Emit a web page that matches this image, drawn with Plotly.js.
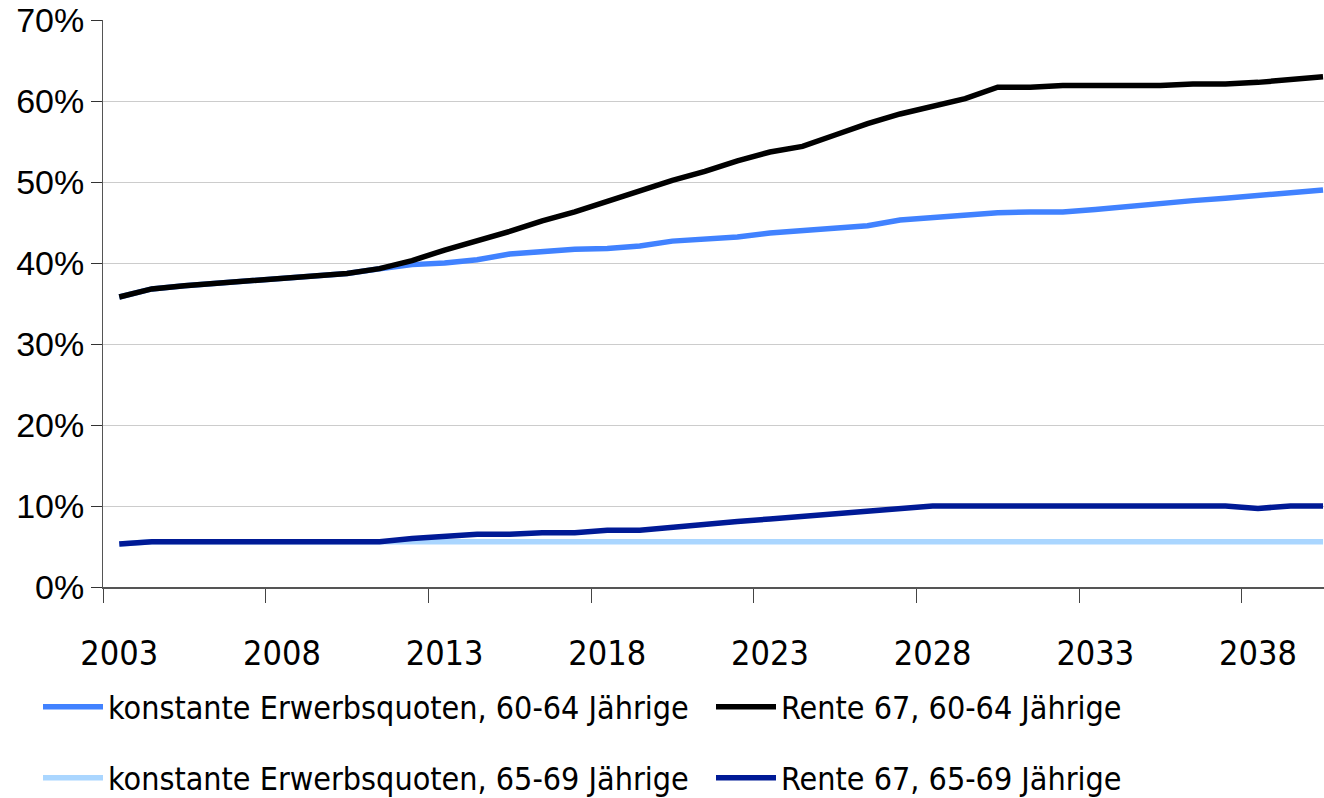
<!DOCTYPE html>
<html>
<head>
<meta charset="utf-8">
<script src="https://cdn.plot.ly/plotly-3.0.1.min.js"></script>
<style>
  html, body { margin: 0; padding: 0; background: #fff; }
  #chart { width: 1324px; height: 798px; }
</style>
</head>
<body>
<div id="chart"></div>
<script>
// Jahre der Projektion
const years = [2003, 2004, 2005, 2006, 2007, 2008, 2009, 2010, 2011, 2012,
               2013, 2014, 2015, 2016, 2017, 2018, 2019, 2020, 2021, 2022,
               2023, 2024, 2025, 2026, 2027, 2028, 2029, 2030, 2031, 2032,
               2033, 2034, 2035, 2036, 2037, 2038, 2039, 2040];

// Erwerbsquoten in Prozent
const konstant6064 = [35.8, 36.8, 37.2, 37.5, 37.9, 38.2, 38.4, 38.7, 39.3, 39.8,
                      40.0, 40.4, 41.1, 41.4, 41.7, 41.8, 42.1, 42.7, 43.0, 43.2,
                      43.7, 44.0, 44.3, 44.6, 45.3, 45.6, 45.9, 46.2, 46.3, 46.3,
                      46.6, 47.0, 47.4, 47.7, 48.0, 48.3, 48.7, 49.0];
const rente6064 = [35.8, 36.8, 37.2, 37.5, 37.9, 38.2, 38.4, 38.7, 39.3, 40.3,
                   41.6, 42.7, 43.9, 45.2, 46.3, 47.6, 48.9, 50.2, 51.3, 52.6,
                   53.7, 54.4, 55.8, 57.2, 58.4, 59.4, 60.3, 61.7, 61.7, 61.9,
                   61.9, 61.9, 61.9, 62.1, 62.1, 62.3, 62.7, 63.0];
const konstant6569 = [5.3, 5.6, 5.6, 5.6, 5.6, 5.6, 5.6, 5.6, 5.6, 5.6,
                      5.6, 5.6, 5.6, 5.6, 5.6, 5.6, 5.6, 5.6, 5.6, 5.6,
                      5.6, 5.6, 5.6, 5.6, 5.6, 5.6, 5.6, 5.6, 5.6, 5.6,
                      5.6, 5.6, 5.6, 5.6, 5.6, 5.6, 5.6, 5.6];
const rente6569 = [5.3, 5.6, 5.6, 5.6, 5.6, 5.6, 5.6, 5.6, 5.6, 6.0,
                   6.2, 6.5, 6.5, 6.7, 6.7, 7.0, 7.0, 7.4, 7.8, 8.1,
                   8.4, 8.7, 9.1, 9.4, 9.7, 10.0, 10.0, 10.0, 10.0, 10.0,
                   10.0, 10.0, 10.0, 10.0, 10.0, 9.7, 10.0, 10.0];

// Achsenbeschriftung: Jahre im Abstand von fünf, Striche zwischen den Jahren
const labelYears = [2003, 2008, 2013, 2018, 2023, 2028, 2033, 2038];
const labelText = labelYears.map(String);
const boundaryTicks = labelYears.map(y => y - 0.5);

const yTicks = [0, 10, 20, 30, 40, 50, 60, 70];
const yTickText = yTicks.map(v => v + '%');

const narrow = '"DejaVu Sans Condensed", "DejaVu Sans", sans-serif';
const regular = '"Liberation Sans", Arial, sans-serif';

// one legend per entry, laid out in two rows and two columns
const series = [
  { name: 'konstante Erwerbsquoten, 60-64 Jährige', y: konstant6064, color: '#4182ff', legend: 'legend' },
  { name: 'Rente 67, 60-64 Jährige', y: rente6064, color: '#000000', legend: 'legend2' },
  { name: 'konstante Erwerbsquoten, 65-69 Jährige', y: konstant6569, color: '#aad6ff', legend: 'legend3' },
  { name: 'Rente 67, 65-69 Jährige', y: rente6569, color: '#001a96', legend: 'legend4' }
];

const traces = series.map(s => ({
  type: 'scatter',
  mode: 'lines',
  x: years,
  y: s.y,
  name: s.name,
  legend: s.legend,
  line: { color: s.color, width: 5.5 },
  hoverinfo: 'skip'
}));

// draw order: light series beneath the Rente-67 series
const data = [traces[2], traces[0], traces[3], traces[1]];

const legendCommon = {
  orientation: 'h',
  xref: 'container',
  yref: 'container',
  xanchor: 'left',
  yanchor: 'middle',
  font: { family: narrow, size: 32, color: '#000' },
  itemwidth: 60,
  bgcolor: 'rgba(0,0,0,0)'
};
const col1 = 38, col2 = 711;
const row1 = 1 - 707 / 798, row2 = 1 - 778 / 798;

const layout = {
  width: 1324,
  height: 798,
  margin: { l: 103, r: 0, t: 20, b: 211 },
  paper_bgcolor: '#fff',
  plot_bgcolor: '#fff',
  showlegend: true,
  xaxis: {
    range: [2002.5, 2040.03],
    tickmode: 'array',
    tickvals: labelYears,
    ticktext: labelText,
    ticks: '',
    minor: {
      tickmode: 'array',
      tickvals: boundaryTicks,
      ticks: 'outside',
      ticklen: 14,
      tickcolor: '#444',
      tickwidth: 1,
      showgrid: false
    },
    ticklabelstandoff: 35,
    tickfont: { family: narrow, size: 34, color: '#000' },
    showline: true,
    linecolor: '#555',
    linewidth: 2,
    showgrid: false,
    zeroline: false,
    fixedrange: true
  },
  yaxis: {
    range: [0, 70],
    tickmode: 'array',
    tickvals: yTicks,
    ticktext: yTickText,
    ticks: 'outside',
    ticklen: 11,
    tickcolor: '#333',
    showline: true,
    linecolor: '#555',
    linewidth: 1,
    showgrid: true,
    gridcolor: '#cccccc',
    gridwidth: 1,
    zeroline: false,
    tickfont: { family: regular, size: 34, color: '#000' },
    fixedrange: true
  },
  legend: Object.assign({}, legendCommon, { x: col1 / 1324, y: row1 }),
  legend2: Object.assign({}, legendCommon, { x: col2 / 1324, y: row1 }),
  legend3: Object.assign({}, legendCommon, { x: col1 / 1324, y: row2 }),
  legend4: Object.assign({}, legendCommon, { x: col2 / 1324, y: row2 })
};

Plotly.newPlot('chart', data, layout, { staticPlot: true, displayModeBar: false });
</script>
</body>
</html>
